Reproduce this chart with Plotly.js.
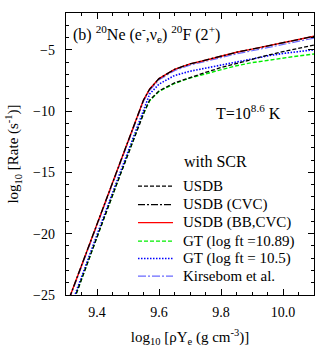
<!DOCTYPE html>
<html>
<head>
<meta charset="utf-8">
<script src="https://cdn.plot.ly/plotly-3.0.1.min.js"></script>
<style>
  body { margin: 0; background: #fff; }
  #plot { width: 329px; height: 354px; }
</style>
</head>
<body>
<div id="plot"></div>
<script>
// log10(rho*Ye) grid
var xVals = [9.31, 9.35, 9.40, 9.45, 9.50, 9.53, 9.55, 9.57, 9.60, 9.65, 9.70, 9.75, 9.80, 9.85, 9.90, 9.95, 10.00, 10.05, 10.10];
var xShift = [9.32, 9.36, 9.41, 9.46, 9.51, 9.54, 9.555, 9.57, 9.60, 9.65, 9.70, 9.75, 9.80, 9.85, 9.90, 9.95, 10.00, 10.05, 10.10];

// log10 rate values for each curve
var usdb      = [-25.8, -23.0, -19.6, -16.2, -12.8, -10.8, -9.9, -9.1, -8.35, -7.7, -7.25, -6.85, -6.45, -6.1, -5.75, -5.45, -5.15, -4.9, -4.62];
var usdbCvc   = [-25.3, -22.6, -19.2, -15.8, -12.4, -10.4, -9.1, -8.2, -7.35, -6.6, -6.15, -5.85, -5.5, -5.2, -4.95, -4.68, -4.42, -4.15, -3.9];
var usdbBb    = [-25.3, -22.6, -19.2, -15.8, -12.4, -10.4, -9.1, -8.2, -7.35, -6.6, -6.15, -5.85, -5.5, -5.2, -4.95, -4.68, -4.42, -4.15, -3.9];
var gt1089    = [-25.8, -23.0, -19.6, -16.2, -12.8, -10.8, -9.95, -9.15, -8.4, -7.75, -7.3, -6.95, -6.6, -6.3, -6.05, -5.85, -5.65, -5.5, -5.35];
var gt105     = [-25.6, -22.8, -19.4, -16.0, -12.6, -10.6, -9.5, -8.6, -7.8, -7.1, -6.75, -6.5, -6.2, -5.95, -5.7, -5.5, -5.3, -5.15, -5.0];
var kirsebom  = [-25.4, -22.7, -19.3, -15.9, -12.5, -10.5, -9.2, -8.3, -7.45, -6.7, -6.25, -5.95, -5.62, -5.33, -5.08, -4.82, -4.56, -4.3, -4.05];

var names  = ["USDB", "USDB (CVC)", "USDB (BB,CVC)", "GT (log ft =10.89)", "GT (log ft = 10.5)", "Kirsebom et al."];
var colors = ["#000000", "#000000", "#ff0000", "#00ee00", "#0000ff", "#6a6aff"];
var dashes = ["4px,2px", "7px,2px,2px,2px", "solid", "4px,2px", "1.5px,1.5px", "8px,2px,2px,2px"];
var widths = [1.3, 1.3, 1.4, 1.4, 1.6, 1.2];

var xs = [xShift, xVals, xVals, xShift, xShift, xVals];
var ys = [usdb, usdbCvc, usdbBb, gt1089, gt105, kirsebom];
var drawOrder = [3, 4, 5, 2, 0, 1];

var serif = "Liberation Serif, Times New Roman, serif";

var data = [];
drawOrder.forEach(function(i){
  data.push({
    x: xs[i], y: ys[i], mode: "lines", name: names[i],
    line: {color: colors[i], dash: dashes[i], width: widths[i]},
    showlegend: false
  });
});

// plot box in pixels, used to place the hand-made legend
var L = 66, R = 314, T = 12.5, B = 295;
function px(x){ return (x - L) / (R - L); }
function py(y){ return (B - y) / (B - T); }

var shapes = [];
var annotations = [
  {text: "(b) <sup>20</sup>Ne (e<sup>-</sup>,ν<sub>e</sub>) <sup>20</sup>F (2<sup>+</sup>)", x: px(71), y: py(34), xanchor: "left", yanchor: "middle", size: 16},
  {text: "T=10<sup>8.6</sup> K", x: px(248), y: py(112), xanchor: "center", yanchor: "middle", size: 16},
  {text: "with SCR", x: px(215), y: py(161), xanchor: "center", yanchor: "middle", size: 16}
];
var legY = [186, 204.5, 222.5, 241, 258.5, 276];
names.forEach(function(n, i){
  shapes.push({type: "line", xref: "paper", yref: "paper",
    x0: px(138), x1: px(173), y0: py(legY[i]), y1: py(legY[i]),
    line: {color: colors[i], dash: dashes[i], width: widths[i]}});
  annotations.push({text: n, x: px(181), y: py(legY[i]), xanchor: "left", yanchor: "middle", size: 15});
});
annotations.forEach(function(a){
  a.xref = "paper"; a.yref = "paper"; a.showarrow = false;
  a.font = {family: serif, size: a.size, color: "#000"};
  delete a.size;
});

var layout = {
  width: 329, height: 354,
  margin: {l: L, r: 329 - R, t: T, b: 354 - B},
  paper_bgcolor: "#fff", plot_bgcolor: "#fff",
  font: {family: serif, size: 14, color: "#000"},
  showlegend: false,
  xaxis: {
    range: [9.3, 10.1], tickvals: [9.4, 9.6, 9.8, 10.0], tickformat: ".1f",
    ticks: "inside", ticklen: 6, tickwidth: 1, tickcolor: "#000",
    minor: {dtick: 0.05, ticks: "inside", ticklen: 3, tickcolor: "#000"},
    showline: true, linecolor: "#000", linewidth: 1.2, mirror: "allticks",
    showgrid: false, zeroline: false, ticklabelstandoff: 4,
    title: {text: "log<sub>10</sub> [ρY<sub>e</sub> (g cm<sup>-3</sup>)]", font: {family: serif, size: 15}, standoff: 12}
  },
  yaxis: {
    range: [-25, -2], tickvals: [-25, -20, -15, -10, -5],
    ticks: "inside", ticklen: 6, tickwidth: 1, tickcolor: "#000",
    minor: {dtick: 1, ticks: "inside", ticklen: 3, tickcolor: "#000"},
    showline: true, linecolor: "#000", linewidth: 1.2, mirror: "allticks",
    showgrid: false, zeroline: false, ticklabelstandoff: 7,
    title: {text: "log<sub>10</sub> [Rate (s<sup>-1</sup>)]", font: {family: serif, size: 15}, standoff: 10}
  },
  shapes: shapes,
  annotations: annotations
};

Plotly.newPlot("plot", data, layout, {staticPlot: true});
</script>
</body>
</html>
